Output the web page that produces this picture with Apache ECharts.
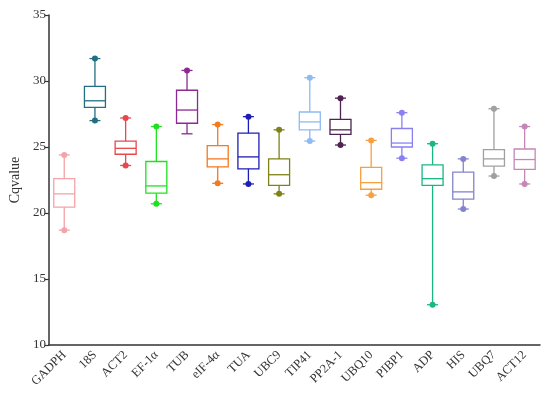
<!DOCTYPE html>
<html><head><meta charset="utf-8">
<script src="https://cdn.jsdelivr.net/npm/echarts@6/dist/echarts.min.js"></script>
<style>html,body{margin:0;padding:0;background:#fff}#c{width:550px;height:393px}</style>
</head><body><div id="c"></div>
<script>
var categories = ['GADPH','18S','ACT2','EF-1\u03b1','TUB','eIF-4\u03b1','TUA','UBC9','TIP41','PP2A-1','UBQ10','PIBP1','ADP','HIS','UBQ7','ACT12'];
var minVals = [18.7, 27.0, 23.6, 20.7, 26.0, 22.25, 22.2, 21.45, 25.45, 25.15, 21.35, 24.15, 13.05, 20.3, 22.8, 22.2];
var q1Vals = [20.45, 28.0, 24.45, 21.5, 26.8, 23.5, 23.35, 22.1, 26.3, 25.95, 21.8, 25.0, 22.1, 21.05, 23.55, 23.3];
var medVals = [21.45, 28.5, 24.9, 22.05, 27.8, 24.1, 24.25, 22.9, 26.9, 26.3, 22.3, 25.3, 22.6, 21.6, 24.1, 24.05];
var q3Vals = [22.6, 29.6, 25.45, 23.9, 29.3, 25.1, 26.05, 24.1, 27.65, 27.1, 23.45, 26.4, 23.65, 23.1, 24.8, 24.85];
var maxVals = [24.4, 31.7, 27.2, 26.55, 30.8, 26.7, 27.3, 26.3, 30.25, 28.7, 25.5, 27.6, 25.25, 24.1, 27.9, 26.55];
var colors = ['#f4a3a8','#236f82','#e8474c','#1fe21f','#8a2a92','#f47a1e','#1e1eb4','#7f8216','#8fbaf2','#4f2350','#f6a042','#8a80f2','#18b784','#8484cc','#a0a0a0','#c487b8'];
var showMinDot = [1,1,1,1,0,1,1,1,1,1,1,1,1,1,1,1];

var data = categories.map(function(c,i){return [i, minVals[i], q1Vals[i], medVals[i], q3Vals[i], maxVals[i]];});
var chart = echarts.init(document.getElementById('c'));
var serif = 'Liberation Serif';
chart.setOption({
  animation:false,
  grid:{left:40,right:10,top:15,bottom:48},
  xAxis:{type:'category',data:categories,boundaryGap:true,
    axisLine:{lineStyle:{color:'#333',width:1.5}},
    axisTick:{alignWithLabel:true,length:5,lineStyle:{color:'#333',width:1.2}},
    axisLabel:{rotate:45,fontFamily:serif,fontSize:12.5,color:'#333',margin:8,interval:0}},
  yAxis:{type:'value',min:10,max:35,interval:5,
    name:'Cqvalue',nameLocation:'middle',nameGap:24,nameTextStyle:{fontFamily:serif,fontSize:14,color:'#333'},
    axisLine:{show:true,lineStyle:{color:'#333',width:1.5}},
    axisTick:{show:true,length:4,lineStyle:{color:'#333',width:1.2}},
    splitLine:{show:false},
    axisLabel:{fontFamily:serif,fontSize:13,color:'#333',margin:3}},
  series:[{
    type:'custom',
    data:data,
    encode:{x:0,y:[1,2,3,4,5]},
    renderItem:function(params,api){
      var i=api.value(0);
      var c=colors[i];
      var pMin=api.coord([i,api.value(1)]);
      var pQ1=api.coord([i,api.value(2)]);
      var pMed=api.coord([i,api.value(3)]);
      var pQ3=api.coord([i,api.value(4)]);
      var pMax=api.coord([i,api.value(5)]);
      var x=pMed[0];
      var hw=10.5, cw=5.5;
      var st={stroke:c,lineWidth:1.3,fill:null};
      var ch=[
        {type:'rect',shape:{x:x-hw,y:pQ3[1],width:2*hw,height:pQ1[1]-pQ3[1]},style:{stroke:c,lineWidth:1.3,fill:'#fff'}},
        {type:'line',shape:{x1:x-hw,y1:pMed[1],x2:x+hw,y2:pMed[1]},style:st},
        {type:'line',shape:{x1:x,y1:pQ3[1],x2:x,y2:pMax[1]},style:st},
        {type:'line',shape:{x1:x,y1:pQ1[1],x2:x,y2:pMin[1]},style:st},
        {type:'line',shape:{x1:x-cw,y1:pMax[1],x2:x+cw,y2:pMax[1]},style:st},
        {type:'line',shape:{x1:x-cw,y1:pMin[1],x2:x+cw,y2:pMin[1]},style:st},
        {type:'circle',shape:{cx:x,cy:pMax[1],r:3},style:{fill:c}}
      ];
      if(showMinDot[i]) ch.push({type:'circle',shape:{cx:x,cy:pMin[1],r:3},style:{fill:c}});
      return {type:'group',children:ch};
    }
  }]
});
</script></body></html>
